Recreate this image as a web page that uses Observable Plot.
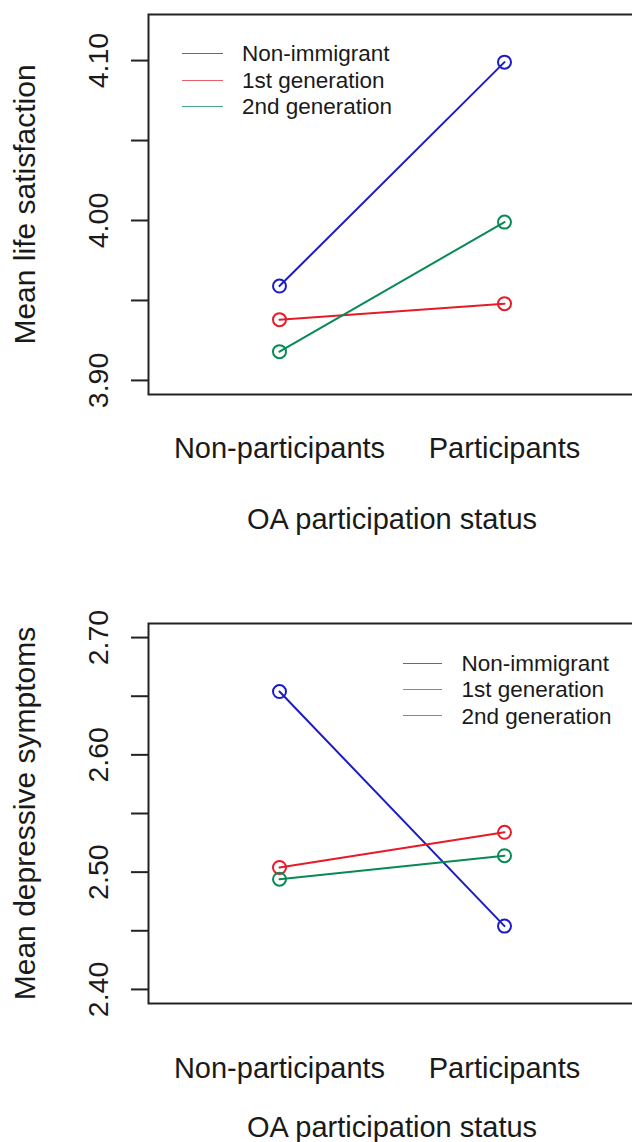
<!DOCTYPE html>
<html>
<head>
<meta charset="utf-8">
<script src="https://cdn.jsdelivr.net/npm/d3@7"></script>
<script src="https://cdn.jsdelivr.net/npm/@observablehq/plot@0.6"></script>
<style>
  html, body { margin: 0; padding: 0; background: #fff; overflow: hidden; }
  #wrap { width: 632px; }
  #wrap svg { display: block; }
</style>
</head>
<body>
<div id="wrap"></div>
<script>
// ---- data ----
const categories = ["Non-participants", "Participants"];
const groups = ["Non-immigrant", "1st generation", "2nd generation"];
const groupColors = ["#1c1cc4", "#e51b28", "#078a55"];
const legendColors = ["#5c5cd6", "#e8606a", "#4aa585"];

const lifeNonImmigrant = [3.959, 4.099];
const lifeFirstGen = [3.938, 3.948];
const lifeSecondGen = [3.918, 3.999];

const depNonImmigrant = [2.654, 2.454];
const depFirstGen = [2.504, 2.534];
const depSecondGen = [2.494, 2.514];

const lifeYlim = [3.9, 4.12];
const lifeTicks = [3.90, 3.95, 4.00, 4.05, 4.10];
const lifeTickLabels = [3.90, 4.00, 4.10];

const depYlim = [2.4, 2.7];
const depTicks = [2.40, 2.45, 2.50, 2.55, 2.60, 2.65, 2.70];
const depTickLabels = [2.40, 2.50, 2.60, 2.70];

const xTitle = "OA participation status";
const lifeTitle = "Mean life satisfaction";
const depTitle = "Mean depressive symptoms";

// ---- helpers ----
function rows(series) {
  const out = [];
  series.forEach((vals, gi) => {
    vals.forEach((v, ci) => out.push({group: groups[gi], cat: categories[ci], value: v}));
  });
  return out;
}
function rExpand(lim) { // R's default 4% axis extension
  const d = (lim[1] - lim[0]) * 0.04;
  return [lim[0] - d, lim[1] + d];
}
const FONT = "'Liberation Sans', Arial, Helvetica, sans-serif";
const INK = "#1a1a1a";

function legendMark(offX, offY, lineLen, textGap, rowH) {
  return (index, scales, values, dims) => {
    const g = d3.create("svg:g");
    const x0 = dims.marginLeft + offX;
    const y0 = dims.marginTop + offY;
    groups.forEach((name, i) => {
      const y = y0 + i * rowH;
      g.append("line")
        .attr("x1", x0).attr("x2", x0 + lineLen)
        .attr("y1", Math.round(y) + 0.5).attr("y2", Math.round(y) + 0.5)
        .style("stroke", legendColors[i]).style("stroke-width", "1.2px");
      g.append("text")
        .attr("x", x0 + lineLen + textGap).attr("y", y)
        .attr("dy", "0.36em")
        .style("text-anchor", "start")
        .style("fill", INK)
        .style("font-size", "22.5px")
        .style("font-family", FONT)
        .text(name);
    });
    return g.node();
  };
}

function panel({data, ylim, ticks, tickLabels, title, marginTop, marginBottom, xPad, titleDy, legend}) {
  return Plot.plot({
    width: 632,
    height: 571,
    marginLeft: 148,
    marginRight: -3,
    marginTop,
    marginBottom,
    style: {fontFamily: FONT, color: INK, background: "white"},
    x: {type: "point", domain: categories, padding: 0.58, label: null},
    y: {domain: rExpand(ylim), label: null},
    color: {domain: groups, range: groupColors},
    marks: [
      Plot.frame({stroke: "#222", strokeWidth: 2}),
      Plot.axisY({ticks, tickSize: 17, tickFormat: () => "", stroke: "#222", strokeWidth: 2, label: null}),
      Plot.axisY({ticks: tickLabels, tickSize: 0, tickPadding: 41, tickRotate: -90,
        tickFormat: d => d.toFixed(2), fontSize: 28.5, fill: INK, label: null}),
      Plot.axisX({tickSize: 0, tickPadding: xPad, fontSize: 29, fill: INK, label: null}),
      Plot.text([title], {frameAnchor: "left", dx: -123, rotate: -90, fontSize: 30,
        fill: INK, textAnchor: "middle", lineAnchor: "middle"}),
      Plot.text([xTitle], {frameAnchor: "bottom", dy: titleDy, fontSize: 29,
        fill: INK, textAnchor: "middle", lineAnchor: "middle"}),
      Plot.line(data, {x: "cat", y: "value", z: "group", stroke: "group", strokeWidth: 2}),
      Plot.dot(data, {x: "cat", y: "value", stroke: "group", r: 6.5, strokeWidth: 2, fill: "none"}),
      legend
    ]
  });
}

const wrap = document.getElementById("wrap");
wrap.append(panel({
  data: rows([lifeNonImmigrant, lifeFirstGen, lifeSecondGen]),
  ylim: lifeYlim, ticks: lifeTicks, tickLabels: lifeTickLabels, title: lifeTitle,
  marginTop: 14, marginBottom: 177, xPad: 43, titleDy: 125,
  legend: legendMark(34, 39, 41, 19, 26.5)
}));
wrap.append(panel({
  data: rows([depNonImmigrant, depFirstGen, depSecondGen]),
  ylim: depYlim, ticks: depTicks, tickLabels: depTickLabels, title: depTitle,
  marginTop: 52, marginBottom: 139, xPad: 54, titleDy: 124,
  legend: legendMark(255, 40, 39, 19.5, 26.2)
}));
</script>
</body>
</html>
